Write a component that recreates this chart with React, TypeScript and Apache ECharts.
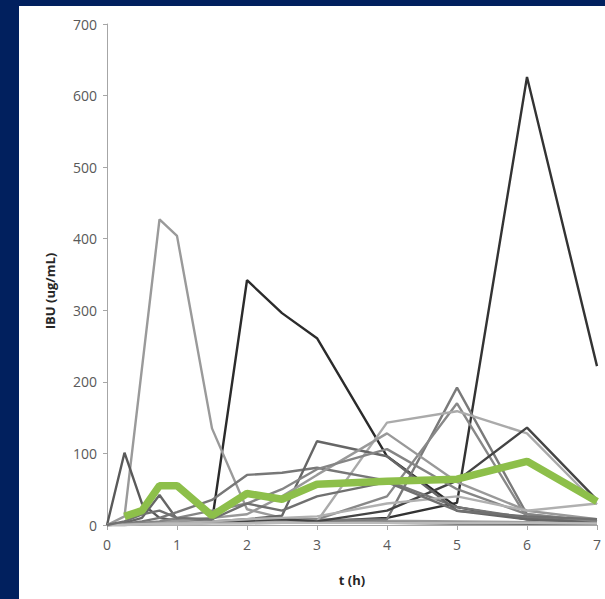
import React, { useEffect, useRef } from "react";
import * as echarts from "echarts";

const timesH = [0, 0.25, 0.5, 0.75, 1, 1.5, 2, 2.5, 3, 4, 5, 6, 7];
const xTicks = [0, 1, 2, 3, 4, 5, 6, 7];
const yTicks = [0, 100, 200, 300, 400, 500, 600, 700];

const subj01 = [0, 2, 3, 3, 3, 4, 5, 5, 5, 10, 31, 626, 222];
const subj02 = [0, 0, 2, 3, 3, 5, 342, 296, 261, 96, 25, 8, 4];
const subj03 = [0, 12, null, 427, 404, 135, 22, 10, 8, 6, 5, 4, 3];
const subj04 = [0, 101, 30, 10, 6, 5, 4, 4, 3, 3, 2, 2, 2];
const subj05 = [0, 3, 10, 42, 8, 5, 5, 4, 4, 3, 3, 2, 2];
const subj06 = [0, 0, 1, 2, 2, 3, 4, 5, 6, 8, 192, 15, 5];
const subj07 = [0, 1, 2, 3, 3, 4, 5, 6, 8, 40, 170, 10, 3];
const subj08 = [0, 1, 2, 2, 3, 4, 5, 6, 5, 143, 159, 128, 29];
const subj09 = [0, 1, 2, 3, 3, 4, 6, 8, 5, 20, 62, 136, 35];
const subj10 = [0, 2, 5, 10, 18, 35, 70, 73, 80, 62, 25, 10, 5];
const subj11 = [0, 1, 2, 3, 4, 5, 8, 13, 117, 96, 20, 8, 4];
const subj12 = [0, 0, 2, 4, 6, 10, 15, 40, 70, 128, 60, 20, 8];
const subj13 = [0, 1, 3, 5, 10, 20, 30, 50, 78, 106, 50, 15, 5];
const subj14 = [0, 0, 1, 2, 3, 5, 8, 10, 12, 30, 40, 20, 30];
const subj15 = [0, 0, 1, 1, 1, 2, 2, 3, 3, 3, 3, 3, 2];
const subj16 = [0, 5, 15, 20, 10, 8, 30, 20, 40, 60, 20, 12, 8];
const meanIbu = [null, 12, 20, 55, 55, 13, 44, 36, 57, 61, 64, 89, 33];

const subjects = [
  subj01, subj02, subj03, subj04, subj05, subj06, subj07, subj08,
  subj09, subj10, subj11, subj12, subj13, subj14, subj15, subj16,
];
const subjectColors = [
  "#333333", "#2b2b2b", "#9a9a9a", "#5a5a5a", "#666666", "#7a7a7a", "#888888", "#aaaaaa",
  "#444444", "#777777", "#666666", "#999999", "#858585", "#b0b0b0", "#bbbbbb", "#707070",
];

const toPairs = (vals: (number | null)[]) =>
  timesH.map((t, i) => [t, vals[i]]).filter((p) => p[1] !== null);

export default function App() {
  const ref = useRef<HTMLDivElement>(null);
  useEffect(() => {
    if (!ref.current) return;
    const chart = echarts.init(ref.current, null, { renderer: "svg" });
    const font = "'Open Sans', 'Liberation Sans', sans-serif";
    const series: any[] = subjects.map((vals, i) => ({
      type: "line",
      data: toPairs(vals),
      symbol: "none",
      lineStyle: { color: subjectColors[i], width: 2.4 },
      z: 2,
    }));
    series.push({
      type: "line",
      data: toPairs(meanIbu),
      symbol: "none",
      lineStyle: { color: "#8dbf4a", width: 7.5 },
      z: 5,
    });
    chart.setOption({
      animation: false,
      backgroundColor: "#ffffff",
      grid: { left: 88, right: 8, top: 18, bottom: 74 },
      xAxis: {
        type: "value",
        min: 0,
        max: 7,
        interval: 1,
        splitLine: { show: false },
        axisLine: { lineStyle: { color: "#a6a6a6", width: 1 } },
        axisTick: { show: true, length: 5, lineStyle: { color: "#a6a6a6" } },
        axisLabel: {
          color: "#595959",
          fontSize: 14,
          fontFamily: font,
          margin: 12,
          formatter: (v: number) => (xTicks.includes(v) ? String(v) : ""),
        },
      },
      yAxis: {
        type: "value",
        min: 0,
        max: 700,
        interval: 100,
        splitLine: { show: false },
        axisLine: { show: true, lineStyle: { color: "#a6a6a6", width: 1 } },
        axisTick: { show: true, length: 4, lineStyle: { color: "#a6a6a6" } },
        axisLabel: {
          color: "#595959",
          fontSize: 14,
          fontFamily: font,
          margin: 10,
          formatter: (v: number) => (yTicks.includes(v) ? String(v) : ""),
        },
      },
      graphic: [
        {
          type: "text",
          x: 333,
          y: 574,
          style: {
            text: "t (h)",
            fill: "#262626",
            font: `bold 13px ${font}`,
            textAlign: "center",
            textVerticalAlign: "middle",
          },
        },
        {
          type: "text",
          x: 31,
          y: 285,
          rotation: Math.PI / 2,
          style: {
            text: "IBU (ug/mL)",
            fill: "#262626",
            font: `bold 13px ${font}`,
            textAlign: "center",
            textVerticalAlign: "middle",
          },
        },
      ],
      series,
    });
    return () => chart.dispose();
  }, []);
  return (
    <div
      style={{
        position: "absolute",
        left: 0,
        top: 0,
        width: 605,
        height: 599,
        background: "#01205e",
      }}
    >
      <div
        ref={ref}
        style={{ position: "absolute", left: 19, top: 6, width: 586, height: 593 }}
      />
    </div>
  );
}
